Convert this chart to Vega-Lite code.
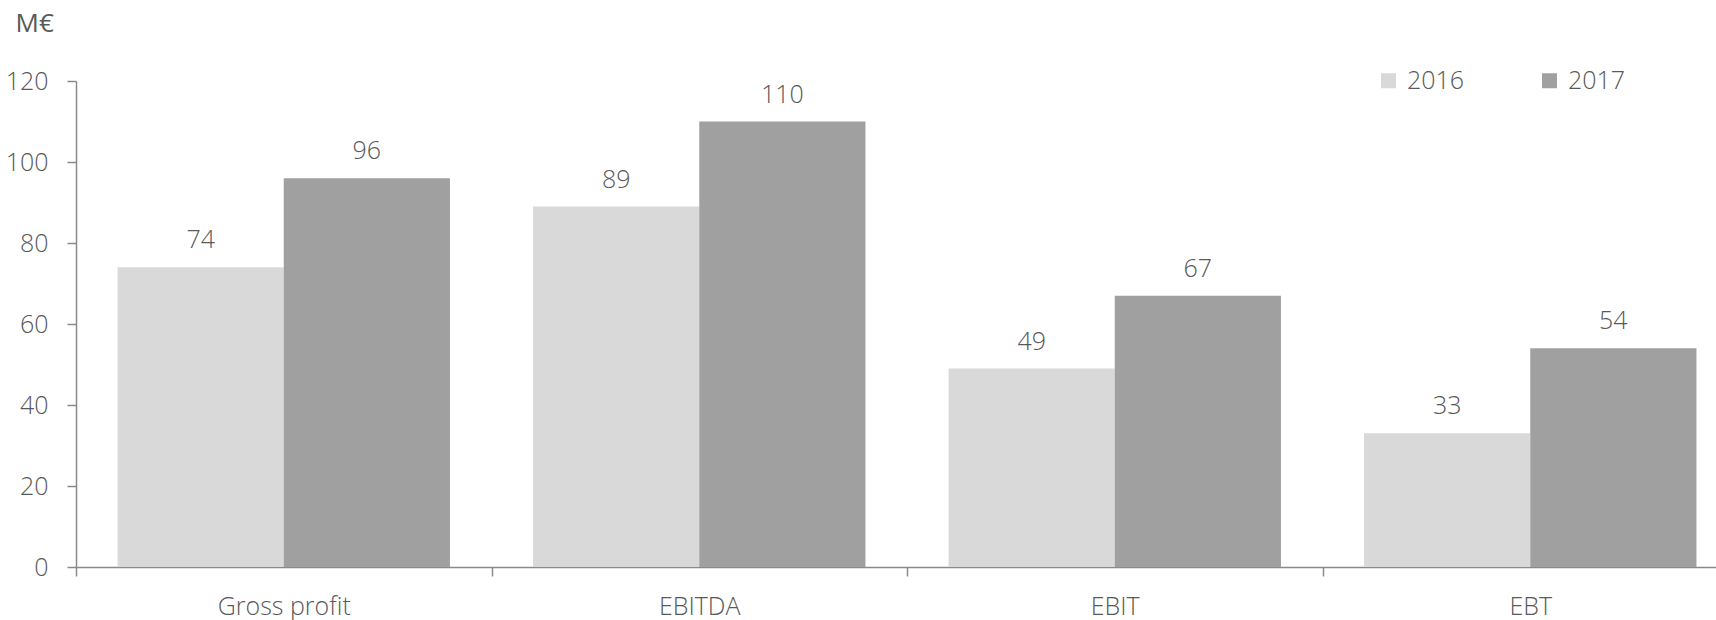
{
  "$schema": "https://vega.github.io/schema/vega-lite/v6.json",
  "width": 1640,
  "height": 486,
  "autosize": {"type": "none"},
  "padding": {"left": 76, "top": 81, "right": 0, "bottom": 53},
  "background": "white",
  "config": {
    "view": {"stroke": null},
    "font": "Open Sans"
  },
  "data": {
    "values": [
      {"metric": "Gross profit", "year": "2016", "value": 74},
      {"metric": "Gross profit", "year": "2017", "value": 96},
      {"metric": "EBITDA", "year": "2016", "value": 89},
      {"metric": "EBITDA", "year": "2017", "value": 110},
      {"metric": "EBIT", "year": "2016", "value": 49},
      {"metric": "EBIT", "year": "2017", "value": 67},
      {"metric": "EBT", "year": "2016", "value": 33},
      {"metric": "EBT", "year": "2017", "value": 54}
    ]
  },
  "encoding": {
    "x": {
      "field": "metric",
      "type": "nominal",
      "sort": ["Gross profit", "EBITDA", "EBIT", "EBT"],
      "scale": {"paddingInner": 0, "paddingOuter": 0, "range": [0, 1662]},
      "axis": {
        "title": null,
        "labelAngle": 0,
        "tickBand": "extent",
        "tickSize": 9,
        "tickColor": "#8a8a8a",
        "tickWidth": 1.5,
        "domainColor": "#8a8a8a",
        "domainWidth": 1.5,
        "labelFontSize": 25,
        "labelFontWeight": 300,
        "labelColor": "#595959",
        "labelBaseline": "alphabetic",
        "labelPadding": 38
      }
    },
    "xOffset": {
      "field": "year",
      "type": "nominal",
      "scale": {"paddingInner": 0, "paddingOuter": 0.25}
    },
    "y": {
      "field": "value",
      "type": "quantitative",
      "scale": {"domain": [0, 120]},
      "axis": {
        "values": [0, 20, 40, 60, 80, 100, 120],
        "grid": false,
        "tickSize": 9,
        "tickColor": "#8a8a8a",
        "tickWidth": 1.5,
        "domainColor": "#8a8a8a",
        "domainWidth": 1.5,
        "labelFontSize": 25,
        "labelFontWeight": 300,
        "labelColor": "#595959",
        "labelPadding": 19,
        "title": "M€",
        "titleAngle": 0,
        "titleAlign": "left",
        "titleBaseline": "alphabetic",
        "titleX": -61,
        "titleY": -50,
        "titleFontSize": 26,
        "titleFontWeight": 400,
        "titleColor": "#595959"
      }
    }
  },
  "layer": [
    {
      "mark": {"type": "bar"},
      "encoding": {
        "color": {
          "field": "year",
          "type": "nominal",
          "scale": {"domain": ["2016", "2017"], "range": ["#d9d9d9", "#a0a0a0"]},
          "legend": {
            "title": null,
            "orient": "none",
            "direction": "horizontal",
            "legendX": 1300,
            "legendY": -13,
            "symbolType": "square",
            "symbolSize": 225,
            "symbolStrokeWidth": 0,
            "labelFontSize": 25,
            "labelFontWeight": 300,
            "labelColor": "#595959",
            "labelOffset": 6,
            "columnPadding": 72
          }
        }
      }
    },
    {
      "mark": {"type": "text", "dy": -19, "baseline": "alphabetic", "fontSize": 25, "fontWeight": 300, "color": "#595959"},
      "encoding": {
        "text": {"field": "value", "type": "quantitative"}
      }
    }
  ]
}
